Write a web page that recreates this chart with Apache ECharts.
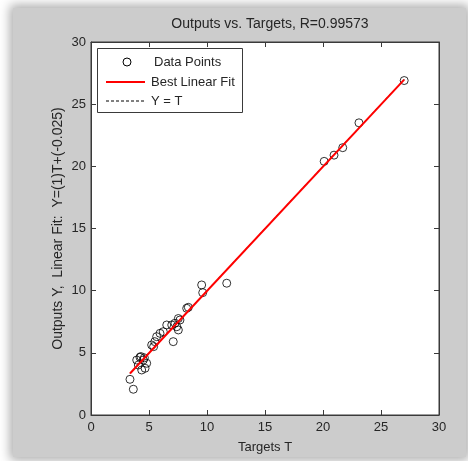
<!DOCTYPE html>
<html>
<head>
<meta charset="utf-8">
<script src="https://cdn.jsdelivr.net/npm/echarts@6/dist/echarts.min.js"></script>
<style>
  html, body { margin: 0; padding: 0; background: #ffffff; }
  #panel { position: absolute; left: 13px; top: 8px; width: 453px; height: 449px;
           background: #cccccc; box-shadow: 0 0 10px 3px rgba(0,0,0,0.33); }
  #chart { position: absolute; left: 0; top: 0; width: 468px; height: 461px; }
</style>
</head>
<body>
<div id="panel"></div>
<div id="chart"></div>
<script>
// Targets (T) and network outputs (Y)
const targets = [27.0, 23.1, 21.7, 20.95, 20.1, 11.7, 9.54, 9.63, 8.39, 8.25,
                 7.67, 7.53, 7.24, 6.96, 6.53, 7.39, 7.53, 7.09, 6.23, 5.95,
                 5.66, 5.23, 5.5, 5.4, 4.22, 3.94, 4.51, 4.08, 4.80, 4.66,
                 4.37, 4.3, 4.6, 3.36, 3.65];
const outputs = [26.9, 23.5, 21.5, 20.9, 20.4, 10.6, 10.46, 9.84, 8.66, 8.58,
                 7.64, 7.76, 7.38, 7.24, 7.24, 7.1, 6.84, 5.9, 6.7, 6.57,
                 6.3, 5.63, 5.9, 5.5, 4.64, 4.42, 4.42, 4.02, 4.16, 3.76,
                 3.62, 4.7, 4.6, 2.87, 2.07];
// Fit: Y = (1)T + (-0.025), drawn over the target range
const fitSlope = 1;
const fitIntercept = -0.025;
const fitRange = [3.36, 27.0];
const xTicks = [0, 5, 10, 15, 20, 25, 30];
const yTicks = [0, 5, 10, 15, 20, 25, 30];
const titleText = 'Outputs vs. Targets, R=0.99573';
const xName = 'Targets T';
const yName = 'Outputs Y,  Linear Fit:  Y=(1)T+(-0.025)';
const legendNames = ['Data Points', 'Best Linear Fit', 'Y = T'];

const points = targets.map((t, i) => [t, outputs[i]]);
const fitLine = fitRange.map(t => [t, fitSlope * t + fitIntercept]);
const idLine = fitRange.map(t => [t, t]);

const FONT = '"Liberation Sans", Arial, sans-serif';
const TXT = '#262626';
const AX = '#3a3a3a';

function axisBase(extra) {
  return Object.assign({
    type: 'value', min: xTicks[0], max: xTicks[xTicks.length - 1], interval: 5,
    axisLine: { show: true, onZero: false, lineStyle: { color: AX, width: 1 } },
    axisTick: { show: true, inside: true, length: 5, lineStyle: { color: AX } },
    splitLine: { show: false },
    axisLabel: { show: false }
  }, extra);
}

const chart = echarts.init(document.getElementById('chart'), null, { renderer: 'canvas' });
chart.setOption({
  backgroundColor: 'transparent',
  animation: false,
  title: {
    text: titleText, left: 265, top: 12, textAlign: 'center',
    textStyle: { fontFamily: FONT, fontSize: 14, fontWeight: 'normal', color: TXT }
  },
  grid: { left: 91, top: 42, right: 29, bottom: 46, show: true,
          backgroundColor: '#ffffff', borderColor: AX, borderWidth: 1 },
  xAxis: [
    axisBase({ position: 'bottom',
      axisLabel: { show: true, margin: 6, fontFamily: FONT, fontSize: 13, color: TXT },
      name: xName, nameLocation: 'middle', nameGap: 26,
      nameTextStyle: { fontFamily: FONT, fontSize: 13, color: TXT } }),
    axisBase({ position: 'top' })
  ],
  yAxis: [
    axisBase({ position: 'left', min: yTicks[0], max: yTicks[yTicks.length - 1],
      axisLabel: { show: true, margin: 5, fontFamily: FONT, fontSize: 13, color: TXT },
      name: yName, nameLocation: 'middle', nameGap: 26, nameMoveOverlap: false,
      nameTextStyle: { fontFamily: FONT, fontSize: 14, color: TXT } }),
    axisBase({ position: 'right', min: yTicks[0], max: yTicks[yTicks.length - 1] })
  ],
  series: [
    { name: legendNames[0], type: 'scatter', data: points, symbol: 'circle', symbolSize: 8,
      itemStyle: { color: 'rgba(0,0,0,0)', borderColor: '#000', borderWidth: 1 }, z: 2 },
    { name: legendNames[2], type: 'line', data: idLine, symbol: 'none',
      lineStyle: { color: '#000', width: 1, type: [3, 2] }, z: 3 },
    { name: legendNames[1], type: 'line', data: fitLine, symbol: 'none',
      lineStyle: { color: '#ff0000', width: 2 }, z: 4 }
  ],
  graphic: [
    { type: 'group', left: 97, top: 48, z: 10, children: [
      { type: 'rect', shape: { x: 0.5, y: 0.5, width: 145, height: 64 },
        style: { fill: '#fff', stroke: AX, lineWidth: 1 } },
      { type: 'circle', shape: { cx: 30, cy: 14, r: 4 },
        style: { fill: 'rgba(0,0,0,0)', stroke: '#000', lineWidth: 1 } },
      { type: 'text', x: 57, y: 14, style: { text: legendNames[0], fontFamily: FONT, fontSize: 13,
        fill: TXT, verticalAlign: 'middle' } },
      { type: 'line', shape: { x1: 9, y1: 34, x2: 48, y2: 34 },
        style: { stroke: '#ff0000', lineWidth: 2 } },
      { type: 'text', x: 54, y: 34, style: { text: legendNames[1], fontFamily: FONT, fontSize: 13,
        fill: TXT, verticalAlign: 'middle' } },
      { type: 'line', shape: { x1: 9, y1: 53, x2: 48, y2: 53 },
        style: { stroke: '#000', lineWidth: 1, lineDash: [3, 2] } },
      { type: 'text', x: 54, y: 53, style: { text: legendNames[2], fontFamily: FONT, fontSize: 13,
        fill: TXT, verticalAlign: 'middle' } }
    ]}
  ]
});
</script>
</body>
</html>
